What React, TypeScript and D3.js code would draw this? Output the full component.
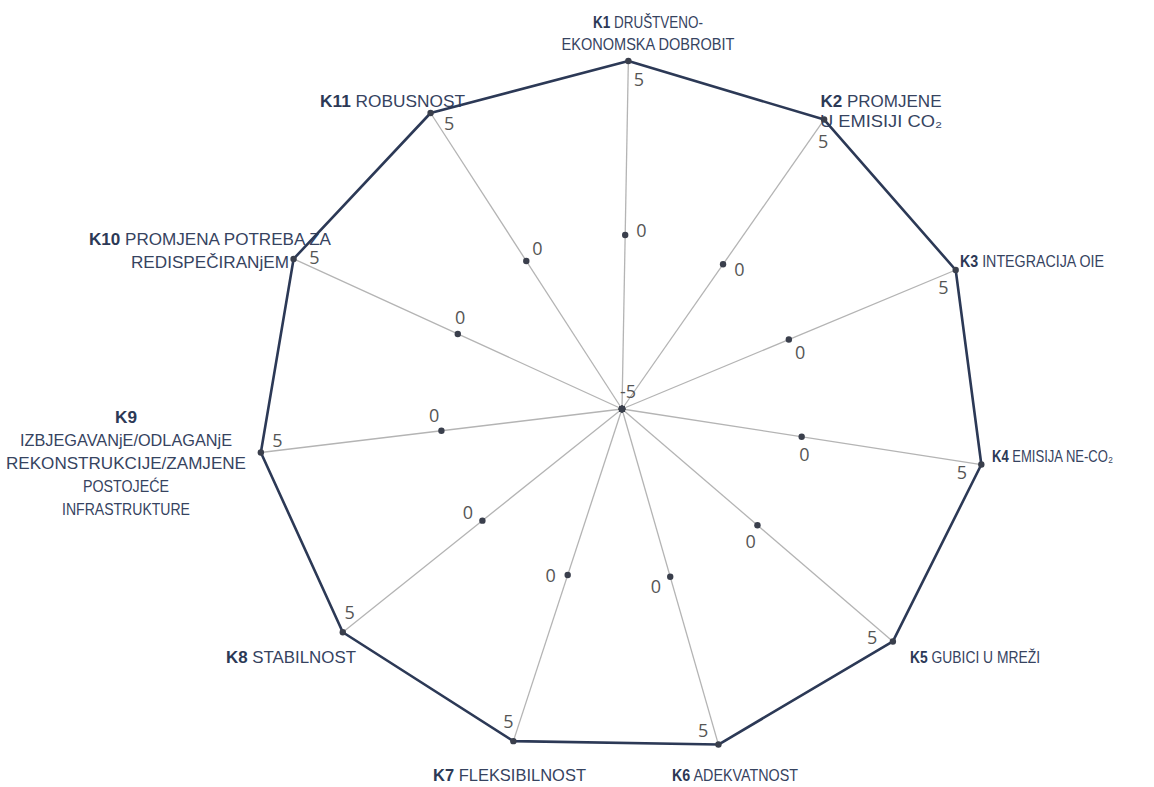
import * as d3 from "d3";

// criteria on the radar (clockwise from the top)
const CODES = ["K1", "K2", "K3", "K4", "K5", "K6", "K7", "K8", "K9", "K10", "K11"];
const NAMES: string[][] = [
  ["DRUŠTVENO-", "EKONOMSKA DOBROBIT"],
  ["PROMJENE", "U EMISIJI CO₂"],
  ["INTEGRACIJA  OIE"],
  ["EMISIJA NE-CO₂"],
  ["GUBICI U MREŽI"],
  ["ADEKVATNOST"],
  ["FLEKSIBILNOST"],
  ["STABILNOST"],
  ["", "IZBJEGAVANjE/ODLAGANjE", "REKONSTRUKCIJE/ZAMJENE", "POSTOJEĆE", "INFRASTRUKTURE"],
  ["PROMJENA POTREBA ZA", "REDISPEČIRANjEM"],
  ["ROBUSNOST"],
];

// series values
const MAX_VALUES = [5, 5, 5, 5, 5, 5, 5, 5, 5, 5, 5];
const ZERO_VALUES = [0, 0, 0, 0, 0, 0, 0, 0, 0, 0, 0];
const MIN_VALUES = [-5, -5, -5, -5, -5, -5, -5, -5, -5, -5, -5];
const DOMAIN = [-5, 5];

// label layout (text anchor, baseline, line height, fitted line widths)
const LABEL_LAYOUT = [
  { x: 648, y: 28, anchor: "middle", lh: 22, w: [110, 173] },
  { x: 881, y: 107, anchor: "middle", lh: 20, w: [121, 122] },
  { x: 960, y: 267, anchor: "start", lh: 22, w: [144] },
  { x: 992, y: 462, anchor: "start", lh: 22, w: [121] },
  { x: 910, y: 663, anchor: "start", lh: 22, w: [130] },
  { x: 672, y: 781, anchor: "start", lh: 22, w: [126] },
  { x: 433, y: 781, anchor: "start", lh: 22, w: [153] },
  { x: 226, y: 663, anchor: "start", lh: 22, w: [130] },
  { x: 126, y: 423, anchor: "middle", lh: 23, w: [22, 212, 240, 86, 128] },
  { x: 210, y: 245, anchor: "middle", lh: 23, w: [242, 158] },
  { x: 320, y: 107, anchor: "start", lh: 22, w: [145] },
];

const W = 1154;
const H = 787;
const cx = 622;
const cy = 409;
const rx = 364;
const ry = 348;

const LABEL_FONT = "'Liberation Sans', Arial, sans-serif";
const NUM_FONT = "'Open Sans', 'Liberation Sans', sans-serif";
const NAVY = "#2c3956";

const angle = d3
  .scaleLinear()
  .domain([0, CODES.length])
  .range([(1 * Math.PI) / 180, (1 * Math.PI) / 180 + 2 * Math.PI]);
const radius = d3.scaleLinear().domain(DOMAIN).range([0, 1]);

const point = (i: number, v: number): [number, number] => {
  const a = angle(i);
  const r = radius(v);
  return [cx + rx * r * Math.sin(a), cy - ry * r * Math.cos(a)];
};

// offset of a value label: axis direction turned by rot degrees
const offset = (i: number, rot: number, d: number): [number, number] => {
  const phi = angle(i) - Math.PI / 2 + (rot * Math.PI) / 180;
  return [d * Math.cos(phi), d * Math.sin(phi)];
};

export default function App() {
  const line = d3
    .line<number>()
    .x((v, i) => point(i, v)[0])
    .y((v, i) => point(i, v)[1])
    .curve(d3.curveLinearClosed);

  return (
    <svg
      width={W}
      height={H}
      style={{ position: "absolute", left: 0, top: 0, background: "#fff" }}
    >
      {/* spokes */}
      {CODES.map((c, i) => {
        const [x1, y1] = point(i, DOMAIN[0]);
        const [x2, y2] = point(i, DOMAIN[1]);
        return (
          <line key={c} x1={x1} y1={y1} x2={x2} y2={y2} stroke="#b4b4b4" strokeWidth={1.3} />
        );
      })}

      {/* category labels */}
      {CODES.map((c, i) => {
        const L = LABEL_LAYOUT[i];
        return NAMES[i].map((txt, j) => (
          <text
            key={c + j}
            x={L.x}
            y={L.y + j * L.lh}
            textAnchor={L.anchor}
            fontFamily={LABEL_FONT}
            fontSize={16.5}
            fill="#36435f"
            textLength={L.w[j]}
            lengthAdjust="spacingAndGlyphs"
          >
            {j === 0 && (
              <tspan fontWeight="bold" fill={NAVY}>
                {c}
              </tspan>
            )}
            {j === 0 && txt ? " " + txt : txt}
          </text>
        ));
      })}

      {/* outer series */}
      <path d={line(MAX_VALUES) || ""} fill="none" stroke={NAVY} strokeWidth={2.6} strokeLinejoin="round" />

      {/* markers */}
      {[MAX_VALUES, ZERO_VALUES, MIN_VALUES].map((series, s) =>
        series.map((v, i) => {
          const [x, y] = point(i, v);
          return <circle key={`${s}-${i}`} cx={x} cy={y} r={3.2} fill="#3a3f4c" />;
        })
      )}

      {/* value labels */}
      {MAX_VALUES.map((v, i) => {
        const [x, y] = point(i, v);
        const [dx, dy] = offset(i, 149, 21);
        return (
          <text
            key={"m" + i}
            x={x + dx}
            y={y + dy}
            textAnchor="middle"
            dominantBaseline="central"
            fontFamily={NUM_FONT}
            fontSize={18}
            fill="#555"
          >
            {v}
          </text>
        );
      })}
      {ZERO_VALUES.map((v, i) => {
        const [x, y] = point(i, v);
        const [dx, dy] = offset(i, 72, 17);
        return (
          <text
            key={"z" + i}
            x={x + dx}
            y={y + dy}
            textAnchor="middle"
            dominantBaseline="central"
            fontFamily={NUM_FONT}
            fontSize={18}
            fill="#555"
          >
            {v}
          </text>
        );
      })}
      {(() => {
        const [x, y] = point(0, MIN_VALUES[0]);
        return (
          <text
            x={x + 6}
            y={y - 18}
            textAnchor="middle"
            dominantBaseline="central"
            fontFamily={NUM_FONT}
            fontSize={18}
            fill="#555"
          >
            {MIN_VALUES[0]}
          </text>
        );
      })()}
    </svg>
  );
}
